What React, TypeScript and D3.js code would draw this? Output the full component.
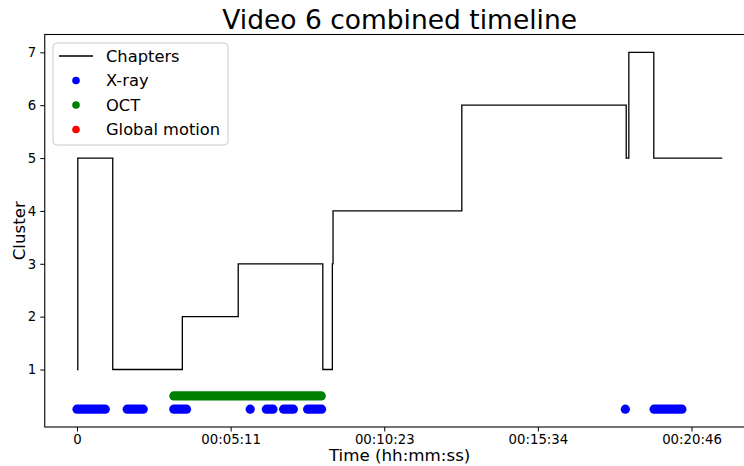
import * as d3 from 'd3';
import React, { useEffect, useRef } from 'react';

// chapter changes (frame where each chapter starts, and its cluster)
const chapterStarts = [0, 25, 1163, 3428, 5247, 8000, 8311, 8333, 12524, 17875, 17960, 18772];
const chapterValues = [1, 5, 1, 2, 3, 1, 3, 4, 6, 5, 7, 5];
const chapterEnd = 21000;

// detected intervals [start frame, end frame]
const xrayIntervals: [number, number][] = [
  [0, 919], [1634, 2154], [3151, 3564], [5637, 5637], [6163, 6378],
  [6725, 7040], [7505, 7960], [17846, 17846], [18782, 19688],
];
const octIntervals: [number, number][] = [[3151, 7950]];
const motionIntervals: [number, number][] = [];

const xrayLevel = 0.25;
const octLevel = 0.5;
const motionLevel = 0.75;

const xTickValues = [0, 5000, 10000, 15000, 20000];
const xTickLabels = ['0', '00:05:11', '00:10:23', '00:15:34', '00:20:46'];
const yTickValues = [1, 2, 3, 4, 5, 6, 7];

const legendItems = [
  { label: 'Chapters', kind: 'line', color: '#000000' },
  { label: 'X-ray', kind: 'dot', color: '#0000ff' },
  { label: 'OCT', kind: 'dot', color: '#008000' },
  { label: 'Global motion', kind: 'dot', color: '#ff0000' },
];

function App() {
  const myRef = useRef<SVGSVGElement>(null);

  useEffect(() => {
    const svg = d3.select(myRef.current);
    svg.selectAll('*').remove();

    const left = 44.75, right = 754.5, top = 34.5, bottom = 427;
    const font = 'DejaVu Sans, sans-serif';

    const xScale = d3.scaleLinear().domain([-1050, 22050]).range([left, right]);
    const yScale = d3.scaleLinear().domain([-0.0875, 7.3375]).range([bottom, top]);

    // chapters step line
    const pts: [number, number][] = chapterStarts.map((s, i) => [s, chapterValues[i]]);
    pts.push([chapterEnd, chapterValues[chapterValues.length - 1]]);
    const line = d3.line<[number, number]>()
      .x(d => xScale(d[0]))
      .y(d => yScale(d[1]))
      .curve(d3.curveStepAfter);
    svg.append('path')
      .attr('d', line(pts))
      .attr('fill', 'none')
      .attr('stroke', '#000')
      .attr('stroke-width', 1.3);

    // detection markers
    const r = 4.6;
    const drawIntervals = (data: [number, number][], level: number, color: string) => {
      svg.append('g')
        .selectAll('rect')
        .data(data)
        .join('rect')
        .attr('x', d => xScale(d[0]) - r)
        .attr('y', yScale(level) - r)
        .attr('width', d => xScale(d[1]) - xScale(d[0]) + 2 * r)
        .attr('height', 2 * r)
        .attr('rx', r)
        .attr('fill', color);
    };
    drawIntervals(xrayIntervals, xrayLevel, '#0000ff');
    drawIntervals(octIntervals, octLevel, '#008000');
    drawIntervals(motionIntervals, motionLevel, '#ff0000');

    // X-axis
    const xAxis = d3.axisBottom(xScale)
      .tickValues(xTickValues)
      .tickFormat((d, i) => xTickLabels[i])
      .tickSize(4.5)
      .tickPadding(3);
    const gx = svg.append('g')
      .attr('transform', `translate(0,${bottom})`)
      .call(xAxis);
    gx.select('.domain').remove();
    gx.selectAll('text').attr('font-size', 13.3).attr('font-family', font).attr('fill', '#000');

    // Y-axis
    const yAxis = d3.axisLeft(yScale)
      .tickValues(yTickValues)
      .tickFormat(d3.format('d'))
      .tickSize(4.5)
      .tickPadding(4);
    const gy = svg.append('g')
      .attr('transform', `translate(${left},0)`)
      .call(yAxis);
    gy.select('.domain').remove();
    gy.selectAll('text').attr('font-size', 13.3).attr('font-family', font).attr('fill', '#000');

    // spines
    svg.append('rect')
      .attr('x', left).attr('y', top)
      .attr('width', right - left).attr('height', bottom - top)
      .attr('fill', 'none').attr('stroke', '#000').attr('stroke-width', 1.1);

    // labels
    svg.append('text')
      .attr('x', (left + right) / 2).attr('y', 29)
      .attr('text-anchor', 'middle')
      .attr('font-family', font).attr('font-size', 26.5)
      .text('Video 6 combined timeline');
    svg.append('text')
      .attr('x', (left + right) / 2).attr('y', 461)
      .attr('text-anchor', 'middle')
      .attr('font-family', font).attr('font-size', 16.7)
      .text('Time (hh:mm:ss)');
    svg.append('text')
      .attr('transform', `translate(25,${(top + bottom) / 2}) rotate(-90)`)
      .attr('text-anchor', 'middle')
      .attr('font-family', font).attr('font-size', 16.7)
      .text('Cluster');

    // legend
    const lg = svg.append('g');
    lg.append('rect')
      .attr('x', 53).attr('y', 43)
      .attr('width', 175).attr('height', 102)
      .attr('rx', 4)
      .attr('fill', 'rgba(255,255,255,0.8)')
      .attr('stroke', '#cccccc').attr('stroke-width', 1);
    legendItems.forEach((item, i) => {
      const cy = 56 + i * 24.5;
      if (item.kind === 'line') {
        lg.append('line')
          .attr('x1', 59).attr('x2', 93)
          .attr('y1', cy).attr('y2', cy)
          .attr('stroke', item.color).attr('stroke-width', 1.3);
      } else {
        lg.append('circle')
          .attr('cx', 76).attr('cy', cy).attr('r', 3.8)
          .attr('fill', item.color);
      }
      lg.append('text')
        .attr('x', 106).attr('y', cy)
        .attr('dy', '0.35em')
        .attr('font-family', font).attr('font-size', 16.3)
        .text(item.label);
    });
  }, []);

  return (
    <svg ref={myRef} width={744} height={466}
      style={{ position: 'absolute', left: 0, top: 0, background: '#fff' }} />
  );
}

export default App;
